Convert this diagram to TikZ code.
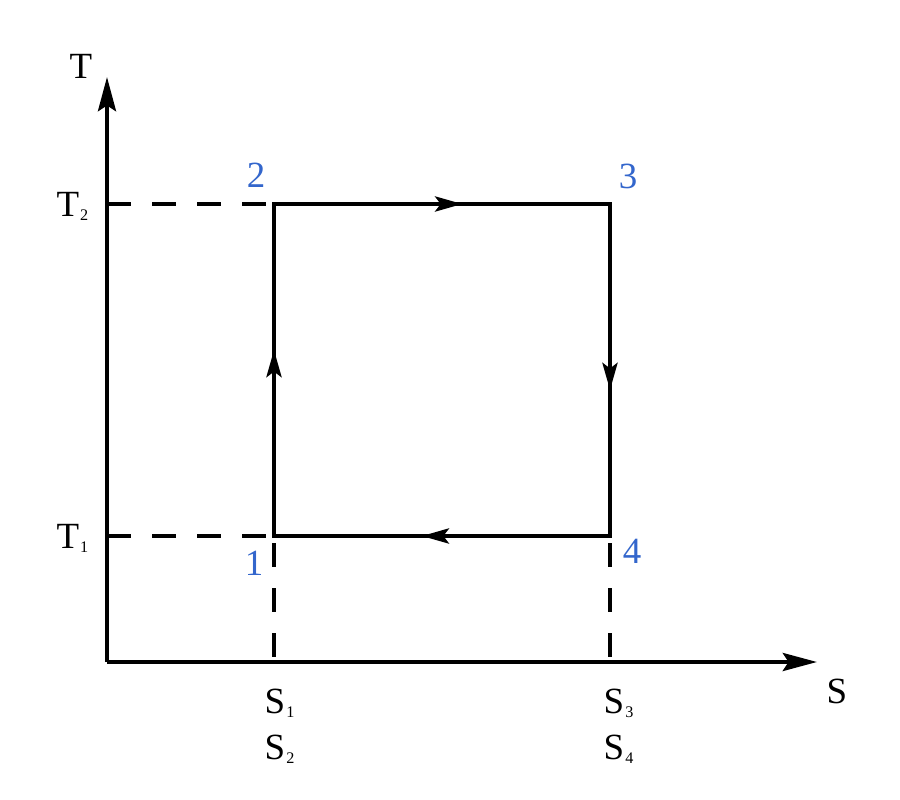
\documentclass[tikz,border=0pt]{standalone}
\usepackage{fontspec}
\setmainfont{Liberation Serif}
\usetikzlibrary{arrows.meta,decorations.markings}
\definecolor{ptblue}{RGB}{51,102,204}
\newcommand{\withidx}[2]{#1\kern0.3pt\raisebox{-1.4pt}{\fontsize{4.6}{5}\selectfont #2}}

\begin{document}
\begin{tikzpicture}[x = 0.01cm, y = -0.01cm,
    every node/.style = {inner sep = 0pt, font = \fontsize{10.5}{12}\selectfont},
    axis/.style = {line width = 1.2pt, -{Stealth[length = 9.7pt, width = 5.1pt, inset = 1.6pt]}},
    cycleside/.style = {line width = 1.1pt, line cap = rect, postaction = decorate,
        decoration = {markings, mark = at position 0.56 with
            {\arrow{Stealth[length = 7.7pt, width = 4.3pt, inset = 1.6pt]}}}},
    guide/.style = {line width = 0.95pt, dash pattern = on 6.8pt off 6pt},
    state/.style = {text = ptblue, anchor = base}]
    \useasboundingbox (0,0) rectangle (900,800);

    % axes
    \coordinate (O) at (107,662);
    \coordinate (Tend) at (107,77);
    \coordinate (Send) at (817,662);
    \draw[axis] (O) -- (Tend);
    \draw[axis] (O) -- (Send);
    \node[anchor = base] (labT) at (81,78) {T};
    \node[anchor = base west] (labS) at (826,703) {S};

    % states of the cycle
    \coordinate (p1) at (274,536);
    \coordinate (p2) at (274,204);
    \coordinate (p3) at (610,204);
    \coordinate (p4) at (610,536);

    % ticks on the axes
    \coordinate (t1) at (107,536);
    \coordinate (t2) at (107,204);
    \coordinate (s1) at (274,662);
    \coordinate (s3) at (610,662);
    \draw[guide] (t2) -- (p2);
    \draw[guide] (t1) -- (p1);
    \draw[guide, dash phase = 10.8pt] (p1) -- (s1);
    \draw[guide, dash phase = 10.8pt] (p4) -- (s3);

    \node[anchor = base east] (labT2) at (89,216) {\withidx{T}{2}};
    \node[anchor = base east] (labT1) at (89,548) {\withidx{T}{1}};
    \node[anchor = base west] (labS1) at (264,713) {\withidx{S}{1}};
    \node[anchor = base west] (labS2) at (264,759) {\withidx{S}{2}};
    \node[anchor = base west] (labS3) at (603,713) {\withidx{S}{3}};
    \node[anchor = base west] (labS4) at (603,759) {\withidx{S}{4}};

    % the cycle
    \draw[cycleside] (p1) -- (p2);
    \draw[cycleside] (p2) -- (p3);
    \draw[cycleside] (p3) -- (p4);
    \draw[cycleside] (p4) -- (p1);

    \node[state] (n1) at (254,575) {1};
    \node[state] (n2) at (256,187) {2};
    \node[state] (n3) at (628,188) {3};
    \node[state] (n4) at (632,563) {4};
\end{tikzpicture}
\end{document}
